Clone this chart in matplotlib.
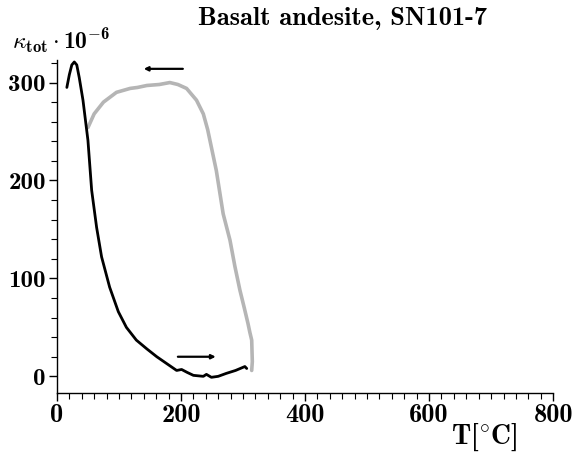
import matplotlib
matplotlib.use('Agg')
import matplotlib.pyplot as plt
from matplotlib.ticker import MultipleLocator

# heating curve (black)
heat_T = [16, 20, 24, 28, 32, 36, 42, 50, 56, 64, 72, 85, 99, 112, 128, 145, 161, 177,
          193, 201, 210, 220, 236, 241, 249, 260, 273, 288, 303, 306]
heat_k = [295, 308, 318, 321, 318, 305, 282, 241, 190, 152, 122, 91, 66, 50, 37, 28, 20, 13,
          6, 7, 4, 1, 0, 2, -1, 0, 3, 6, 10, 8]

# cooling curve (gray)
cool_T = [314, 315, 314, 311, 308, 302, 295, 287, 279, 268, 257, 249, 243, 236,
          225, 209, 195, 182, 165, 145, 130, 118, 96, 75, 60, 50]
cool_k = [6, 15, 37, 45, 54, 70, 88, 112, 139, 166, 210, 234, 252, 268,
          282, 294, 298, 300, 298, 297, 295, 294, 290, 280, 268, 254]

# direction arrows (T start, T end, kappa)
arrows = [(203, 140, 314), (195, 256, 20)]

title = 'Basalt andesite, SN101-7'
xticks = [0, 200, 400, 600, 800]
yticks = [0, 100, 200, 300]

plt.rcParams['mathtext.fontset'] = 'custom'
plt.rcParams['mathtext.rm'] = 'cmr10'
plt.rcParams['mathtext.it'] = 'cmmi10'
plt.rcParams['mathtext.bf'] = 'cmb10'
plt.rcParams['mathtext.cal'] = 'cmsy10'
plt.rcParams['font.family'] = ['cmb10', 'DejaVu Serif']
plt.rcParams['axes.unicode_minus'] = False

fig = plt.figure(figsize=(5.75, 4.53), dpi=100)
ax = fig.add_axes([0.099, 0.1325, 0.863, 0.735])

ax.plot(cool_T, cool_k, color='#b5b5b5', lw=2.6, solid_capstyle='round')
ax.plot(heat_T, heat_k, color='black', lw=2.0, solid_capstyle='round')

for t0, t1, k in arrows:
    ax.annotate('', xy=(t1, k), xytext=(t0, k),
                arrowprops=dict(arrowstyle='-|>', color='black', lw=1.6,
                                mutation_scale=6, shrinkA=0, shrinkB=0))

ax.set_xlim(0, 800)
ax.set_ylim(-17, 323)
ax.set_xticks(xticks)
ax.set_yticks(yticks)
ax.xaxis.set_minor_locator(MultipleLocator(20))
ax.yaxis.set_minor_locator(MultipleLocator(20))
ax.spines['top'].set_visible(False)
ax.spines['right'].set_visible(False)
for s in ('left', 'bottom'):
    ax.spines[s].set_linewidth(1.0)
ax.tick_params(which='major', length=6, width=1, pad=2)
ax.tick_params(which='minor', length=4, width=0.8)
ax.tick_params(axis='y', labelsize=18)
ax.tick_params(axis='x', labelsize=19)

fig.text(0.595, 0.96, title, fontsize=19, ha='center', va='center')
fig.text(0.02, 0.91, r'$\kappa_{\mathbf{tot}}\cdot\mathbf{10}^{\mathbf{-6}}$', fontsize=17,
         ha='left', va='center')
fig.text(0.842, 0.035, r'$\mathbf{T[^{\circ}C]}$', fontsize=20, ha='center', va='center')

fig.savefig('out.png', dpi=100)
